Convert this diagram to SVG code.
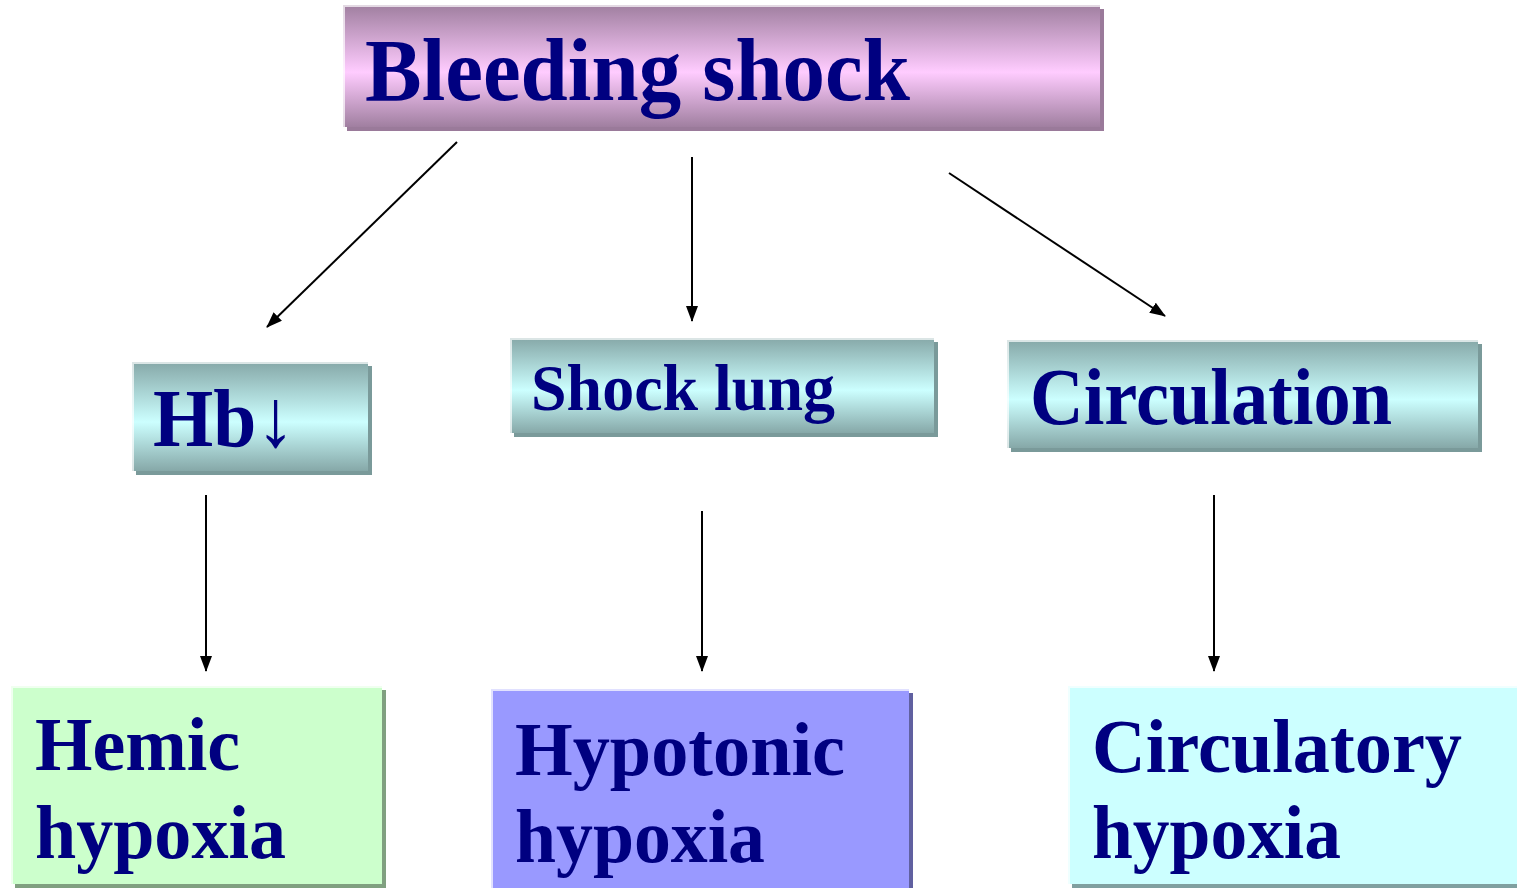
<svg xmlns="http://www.w3.org/2000/svg" width="1517" height="888" viewBox="0 0 1517 888">
<defs>
<linearGradient id="gPink" x1="0" y1="0" x2="0" y2="1">
<stop offset="0" stop-color="#a07fa0"/>
<stop offset="0.55" stop-color="#ffccff"/>
<stop offset="1" stop-color="#a07fa0"/>
</linearGradient>
<linearGradient id="gTeal" x1="0" y1="0" x2="0" y2="1">
<stop offset="0" stop-color="#86a8a8"/>
<stop offset="0.55" stop-color="#ccffff"/>
<stop offset="1" stop-color="#86a8a8"/>
</linearGradient>
<marker id="ah" viewBox="0 0 16 12" refX="15" refY="6" markerWidth="16" markerHeight="12" markerUnits="userSpaceOnUse" orient="auto">
<path d="M0,0 L16,6 L0,12 Z" fill="#000"/>
</marker>
</defs>
<style>
.t{font-family:"Liberation Serif","Times New Roman",serif;font-weight:bold;fill:#000080;}
.c{stroke:#000;stroke-width:2;fill:none;marker-end:url(#ah);}
.hl{fill:none;stroke:#ffffff;stroke-opacity:0.7;stroke-width:2;}
</style>
<rect width="1517" height="888" fill="#ffffff"/>

<g id="connectors">
<line class="c" x1="457" y1="142" x2="267" y2="327"/>
<line class="c" x1="692" y1="157" x2="692" y2="321"/>
<line class="c" x1="949" y1="173" x2="1165" y2="316"/>
<line class="c" x1="206" y1="495" x2="206" y2="671"/>
<line class="c" x1="702" y1="511" x2="702" y2="671"/>
<line class="c" x1="1214" y1="495" x2="1214" y2="671"/>
</g>

<g id="bleeding-shock">
<rect x="347" y="9" width="757" height="122" fill="#9a7a9a"/>
<rect x="343" y="5" width="757" height="122" fill="url(#gPink)"/>
<path class="hl" d="M344,127 L344,6 L1100,6"/>
<text class="t" x="365" y="100" font-size="88" textLength="545" lengthAdjust="spacingAndGlyphs">Bleeding shock</text>
</g>

<g id="hb">
<rect x="136" y="366" width="236" height="109" fill="#7a9a9a"/>
<rect x="132" y="362" width="236" height="109" fill="url(#gTeal)"/>
<path class="hl" d="M133,471 L133,363 L368,363"/>
<text class="t" x="153" y="446" font-size="82" textLength="142" lengthAdjust="spacingAndGlyphs">Hb↓</text>
</g>

<g id="shock-lung">
<rect x="514" y="342" width="424" height="95" fill="#7a9a9a"/>
<rect x="510" y="338" width="424" height="95" fill="url(#gTeal)"/>
<path class="hl" d="M511,433 L511,339 L934,339"/>
<text class="t" x="531" y="410" font-size="66" textLength="304" lengthAdjust="spacingAndGlyphs">Shock lung</text>
</g>

<g id="circulation">
<rect x="1011" y="344" width="471" height="108" fill="#7a9a9a"/>
<rect x="1007" y="340" width="471" height="108" fill="url(#gTeal)"/>
<path class="hl" d="M1008,448 L1008,341 L1478,341"/>
<text class="t" x="1030" y="424" font-size="80" textLength="362" lengthAdjust="spacingAndGlyphs">Circulation</text>
</g>

<g id="hemic-hypoxia">
<rect x="15" y="690" width="371" height="198" fill="#80a080"/>
<rect x="11" y="686" width="371" height="198" fill="#ccffcc"/>
<path class="hl" d="M12,884 L12,687 L382,687"/>
<text class="t" x="35" y="770" font-size="76" textLength="205" lengthAdjust="spacingAndGlyphs">Hemic</text>
<text class="t" x="35" y="858" font-size="76" textLength="251" lengthAdjust="spacingAndGlyphs">hypoxia</text>
</g>

<g id="hypotonic-hypoxia">
<rect x="495" y="693" width="418" height="200" fill="#6060a0"/>
<rect x="491" y="689" width="418" height="200" fill="#9999ff"/>
<path class="hl" d="M492,889 L492,690 L909,690"/>
<text class="t" x="515" y="775" font-size="76" textLength="330" lengthAdjust="spacingAndGlyphs">Hypotonic</text>
<text class="t" x="515" y="862" font-size="76" textLength="250" lengthAdjust="spacingAndGlyphs">hypoxia</text>
</g>

<g id="circulatory-hypoxia">
<rect x="1072" y="690" width="449" height="198" fill="#80a0a0"/>
<rect x="1068" y="686" width="449" height="198" fill="#ccffff"/>
<path class="hl" d="M1069,884 L1069,687 L1517,687"/>
<text class="t" x="1092" y="772" font-size="76" textLength="370" lengthAdjust="spacingAndGlyphs">Circulatory</text>
<text class="t" x="1092" y="858" font-size="76" textLength="249" lengthAdjust="spacingAndGlyphs">hypoxia</text>
</g>
</svg>
